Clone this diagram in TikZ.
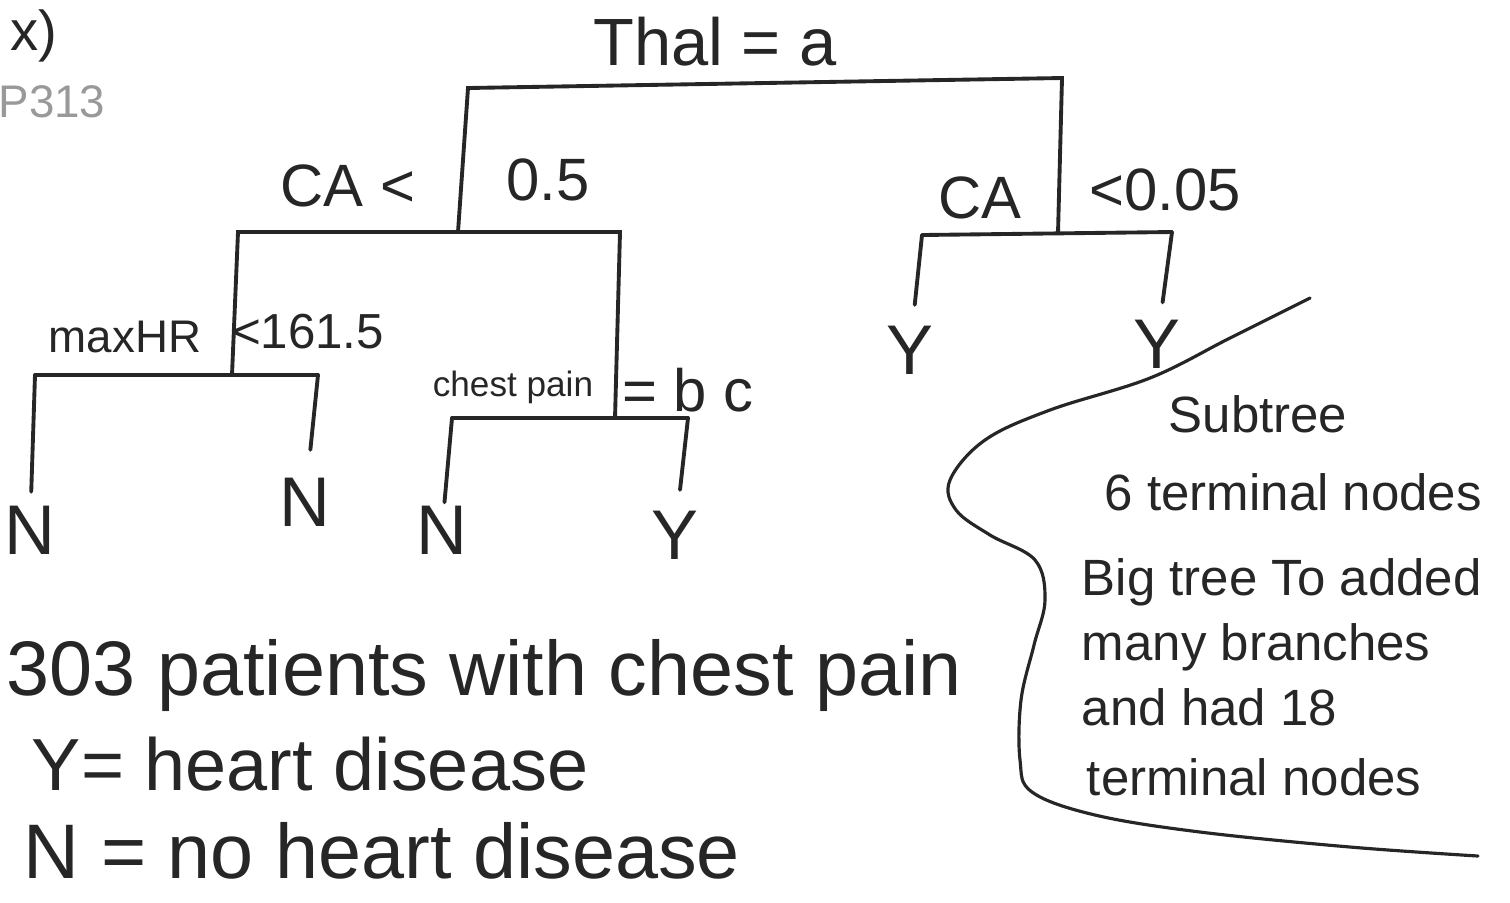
\documentclass[tikz,border=0pt]{standalone}
\usepackage{fontspec}
\setmainfont{Liberation Sans}
\usetikzlibrary{positioning}

\begin{document}
\begin{tikzpicture}[x=0.01cm, y=-0.01cm, line width=1.1pt, line cap=round,
    branch/.style={draw=black!85},
    split/.style={font=\fontsize{17}{20}\selectfont, inner sep=0pt, text=black!85},
    small/.style={font=\fontsize{13}{15}\selectfont, inner sep=0pt, text=black!85},
    leaf/.style={font=\fontsize{20}{24}\selectfont, inner sep=0pt, outer sep=0pt, text=black!85},
    note/.style={font=\fontsize{22}{26}\selectfont, inner sep=0pt, anchor=base west, text=black!85},
    side/.style={font=\fontsize{14.5}{17}\selectfont, inner sep=0pt, anchor=base west, text=black!85}]
    \useasboundingbox (0,0) rectangle (1510,902);

    % Corner scribbles
    \node [split, font=\fontsize{16}{19}\selectfont] (scrib) at (34,36) {x)};
    \node [small, text=black!40]             (page)  at (52,102)  {P313};

    % Split labels
    \node [split, font=\fontsize{19}{22}\selectfont] (thal) at (715,42) {Thal = a};
    \node [split]                            (caL)   at (348,186) {CA <};
    \node [split]                            (caLv)  at (548,180) {0.5};
    \node [split]                            (caR)   at (980,198) {CA};
    \node [split]                            (caRv)  at (1165,190){<0.05};
    \node [small]                            (hr)    at (125,337) {maxHR};
    \node [split, font=\fontsize{14}{16}\selectfont] (hrv) at (308,332) {<161.5};
    \node [small, font=\fontsize{10}{12}\selectfont] (cp) at (513,387) {chest pain};
    \node [split]                            (cpv)   at (688,390) {= b c};

    % Leaves
    \node [leaf]                             (n1)    at (30,530)  {N};
    \node [leaf]                             (n2)    at (305,502) {N};
    \node [leaf]                             (n3)    at (442,530) {N};
    \node [leaf]                             (y1)    at (675,535) {Y};
    \node [leaf]                             (y2)    at (910,350) {Y};
    \node [leaf]                             (y3)    at (1157,344){Y};

    % Bar ends and joints
    \coordinate (rootA) at (468,88);
    \coordinate (rootB) at (1062,78);
    \coordinate (leftJ) at (458,232);
    \coordinate (leftA) at (238,232);
    \coordinate (leftB) at (620,232);
    \coordinate (rightJ) at (1058,233);
    \coordinate (rightA) at (922,235);
    \coordinate (rightB) at (1172,232);
    \coordinate (hrJ) at (232,375);
    \coordinate (hrA) at (35,375);
    \coordinate (hrB) at (318,375);
    \coordinate (cpJ) at (615,418);
    \coordinate (cpA) at (452,418);
    \coordinate (cpB) at (688,418);

    % Paths
    \draw [branch] (leftJ) -- (rootA) -- (rootB) -- (rightJ);
    \draw [branch] (hrJ) -- (leftA) -- (leftB) -- (cpJ);
    \draw [branch] (rightA) -- (rightB);
    \draw [branch] (hrA) -- (hrB);
    \draw [branch] (cpA) -- (cpB);
    \draw [branch, shorten >=4pt] (hrA) -- (n1);
    \draw [branch, shorten >=8pt] (hrB) -- (n2);
    \draw [branch, shorten >=1pt] (cpA) -- (n3);
    \draw [branch, shorten >=6pt] (cpB) -- (y1);
    \draw [branch, shorten >=6pt] (rightA) -- (y2);
    \draw [branch, shorten >=5pt] (rightB) -- (y3);

    % Subtree outline
    \draw [branch, line width=0.9pt] plot [smooth, tension=0.6] coordinates {
        (1310,298) (1230,338) (1150,378) (1050,410) (985,440) (950,480)
        (956,510) (990,535) (1035,560) (1045,600) (1034,645) (1021,700)
        (1020,760) (1032,792) (1095,815) (1200,832) (1350,847) (1478,856)};

    % Notes
    \node [note]  (pat)  at (5,695)    {303 patients with chest pain};
    \node [note, font=\fontsize{21}{25}\selectfont] (ykey) at (30,790) {Y= heart disease};
    \node [note]  (nkey) at (22,878)   {N = no heart disease};
    \node [side, anchor=base]  (sub)  at (1258,432) {Subtree};
    \node [side]  (six)  at (1103,510) {6 terminal nodes};
    \node [side]  (big1) at (1080,595) {Big tree To added};
    \node [side]  (big2) at (1080,660) {many branches};
    \node [side]  (big3) at (1080,725) {and had 18};
    \node [side]  (big4) at (1085,795) {terminal nodes};
\end{tikzpicture}
\end{document}
